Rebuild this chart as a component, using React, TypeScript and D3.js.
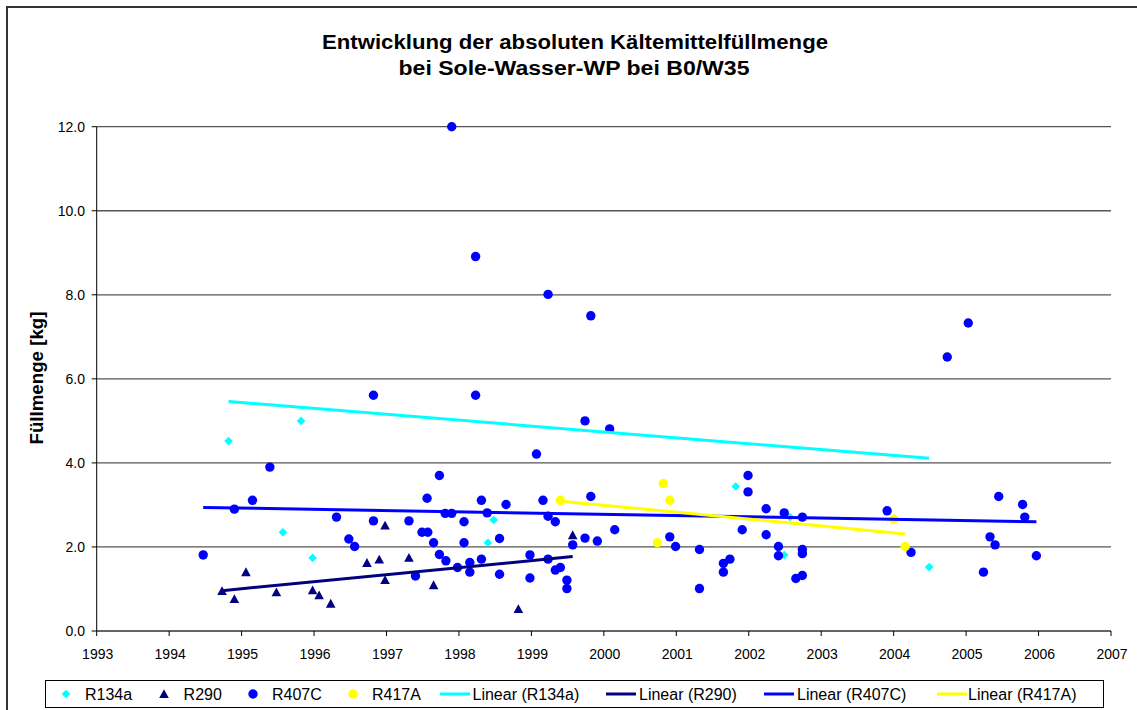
import React from "react";
import * as d3 from "d3";

// ---- data (year, Füllmenge kg) ----
const xTicks = [1993, 1994, 1995, 1996, 1997, 1998, 1999, 2000, 2001, 2002, 2003, 2004, 2005, 2006, 2007];
const yTicks = [0, 2, 4, 6, 8, 10, 12];

const r134a: [number, number][] = [
  [1994.82, 4.52], [1995.82, 5.0], [1995.57, 2.35], [1995.98, 1.74], [1998.48, 2.64],
  [1998.4, 2.1], [2001.82, 3.44], [2002.57, 2.71], [2002.49, 1.81], [2004.49, 1.52],
];

const r290: [number, number][] = [
  [1994.73, 0.95], [1994.9, 0.76], [1995.06, 1.4], [1995.48, 0.92], [1995.98, 0.97],
  [1996.07, 0.85], [1996.23, 0.65], [1996.73, 1.62], [1996.9, 1.7], [1996.98, 2.51],
  [1996.98, 1.21], [1997.31, 1.74], [1997.65, 1.09], [1999.57, 2.28], [1998.82, 0.52],
];

const r407c: [number, number][] = [
  [1994.47, 1.81], [1994.9, 2.9], [1995.15, 3.11], [1995.39, 3.9], [1996.82, 5.61],
  [1998.23, 5.61], [1996.31, 2.71], [1996.48, 2.19], [1996.56, 2.01], [1996.82, 2.62],
  [1997.31, 2.62], [1997.56, 3.16], [1997.73, 3.7], [1997.49, 2.35], [1997.57, 2.35],
  [1997.65, 2.1], [1997.81, 2.8], [1997.9, 2.8], [1998.07, 2.6], [1998.07, 2.1],
  [1998.31, 3.11], [1998.39, 2.81], [1998.56, 2.2], [1997.4, 1.31], [1997.73, 1.82],
  [1997.82, 1.67], [1997.98, 1.51], [1998.15, 1.63], [1998.15, 1.4], [1998.31, 1.71],
  [1998.56, 1.35], [1997.9, 12.0], [1998.23, 8.91], [1999.23, 8.01], [1999.82, 7.5],
  [1999.74, 5.0], [2000.08, 4.81], [1999.07, 4.21], [1998.65, 3.01], [1999.16, 3.11],
  [1999.23, 2.73], [1999.33, 2.6], [1999.82, 3.2], [2000.15, 2.41], [1999.74, 2.21],
  [1999.91, 2.14], [1998.98, 1.81], [1999.23, 1.71], [1998.98, 1.26], [1999.33, 1.45],
  [1999.4, 1.51], [1999.49, 1.21], [1999.49, 1.01], [1999.57, 2.05], [2000.91, 2.24],
  [2000.99, 2.01], [2001.32, 1.94], [2001.32, 1.01], [2001.65, 1.61], [2001.74, 1.71],
  [2001.65, 1.4], [2001.91, 2.41], [2001.99, 3.7], [2001.99, 3.31], [2002.24, 2.91],
  [2002.24, 2.29], [2002.49, 2.81], [2002.41, 2.01], [2002.41, 1.79], [2002.74, 1.94],
  [2002.74, 1.84], [2002.74, 2.71], [2002.65, 1.25], [2002.74, 1.32], [2003.91, 2.86],
  [2004.24, 1.87], [2005.45, 3.2], [2005.78, 3.01], [2005.81, 2.71], [2005.33, 2.24],
  [2005.4, 2.05], [2005.24, 1.4], [2005.97, 1.79], [2004.74, 6.52], [2005.03, 7.33],
];

const r417a: [number, number][] = [
  [1999.4, 3.11], [2000.82, 3.51], [2000.91, 3.11], [2000.74, 2.1], [2004.0, 2.66], [2004.16, 2.01],
];

// linear trend lines (start / end)
const trendR134a: [number, number][] = [[1994.82, 5.46], [2004.49, 4.11]];
const trendR290: [number, number][] = [[1994.73, 0.96], [1999.57, 1.77]];
const trendR407C: [number, number][] = [[1994.47, 2.94], [2005.97, 2.6]];
const trendR417A: [number, number][] = [[1999.4, 3.09], [2004.16, 2.31]];

const seriesNames = ["R134a", "R290", "R407C", "R417A"];
const trendNames = ["Linear (R134a)", "Linear (R290)", "Linear (R407C)", "Linear (R417A)"];
const colors = ["#00FFFF", "#000080", "#0000FF", "#FFFF00"];

const FONT = "'Liberation Sans', Arial, sans-serif";

const x = d3.scaleLinear().domain([1993, 2007]).range([96.7, 1111]);
const y = d3.scaleLinear().domain([0, 12]).range([631, 126.7]);

function Marker({ kind, cx, cy, color }: { kind: number; cx: number; cy: number; color: string }) {
  if (kind === 0) {
    const s = 4.3;
    return <path d={`M${cx},${cy - s}L${cx + s},${cy}L${cx},${cy + s}L${cx - s},${cy}Z`} fill={color} />;
  }
  if (kind === 1) {
    const w = 4.8, h = 8.8;
    return <path d={`M${cx},${cy - h * 0.55}L${cx + w},${cy + h * 0.45}L${cx - w},${cy + h * 0.45}Z`} fill={color} />;
  }
  return <circle cx={cx} cy={cy} r={4.7} fill={color} />;
}

export default function App() {
  const allSeries = [r134a, r290, r407c, r417a];
  const trends = [trendR134a, trendR290, trendR407C, trendR417A];
  const line = d3.line<[number, number]>().x((d) => x(d[0])).y((d) => y(d[1]));

  const legendMarkers = [66, 164, 253, 353];
  const legendMarkerText = [85, 183.6, 272, 372];
  const legendLines = [440, 606, 764, 937];
  const legendLineText = [472.5, 639, 797, 968];

  return (
    <svg
      width={1137}
      height={710}
      style={{ position: "fixed", left: 0, top: 0, background: "#fff" }}
      fontFamily={FONT}
    >
      <rect x={0} y={0} width={1137} height={710} fill="#fff" />
      {/* outer frame */}
      <rect x={7} y={7} width={1150} height={720} fill="none" stroke="#333" strokeWidth={2} />

      {/* title */}
      <text x={575} y={49} textAnchor="middle" fontSize={20} fontWeight="bold" textLength={506} lengthAdjust="spacingAndGlyphs">
        Entwicklung der absoluten Kältemittelfüllmenge
      </text>
      <text x={574} y={75} textAnchor="middle" fontSize={20} fontWeight="bold" textLength={351} lengthAdjust="spacingAndGlyphs">
        bei Sole-Wasser-WP bei B0/W35
      </text>

      {/* gridlines */}
      {yTicks.filter((t) => t > 0).map((t) => (
        <line key={t} x1={x(1993)} x2={x(2007)} y1={y(t)} y2={y(t)} stroke="#555" strokeWidth={1.3} />
      ))}

      {/* axes */}
      <line x1={x(1993)} x2={x(1993)} y1={y(12)} y2={y(0)} stroke="#000" strokeWidth={1} />
      <line x1={x(1993)} x2={x(2007)} y1={y(0)} y2={y(0)} stroke="#333" strokeWidth={1.3} />
      {yTicks.map((t) => (
        <g key={t}>
          <line x1={x(1993) - 5} x2={x(1993)} y1={y(t)} y2={y(t)} stroke="#000" />
          <text x={85} y={y(t) + 5} textAnchor="end" fontSize={14}>
            {t.toFixed(1)}
          </text>
        </g>
      ))}
      {xTicks.map((t) => (
        <g key={t}>
          <line x1={x(t)} x2={x(t)} y1={y(0)} y2={y(0) + 5} stroke="#000" />
          <text x={x(t) + 1} y={659} textAnchor="middle" fontSize={14}>
            {t}
          </text>
        </g>
      ))}

      {/* y axis title */}
      <text
        transform={`translate(42.5,378) rotate(-90)`}
        textAnchor="middle"
        fontSize={18}
        fontWeight="bold"
        textLength={133}
        lengthAdjust="spacingAndGlyphs"
      >
        Füllmenge [kg]
      </text>

      {/* markers */}
      {allSeries.map((s, i) => (
        <g key={i}>
          {s.map((d, j) => (
            <Marker key={j} kind={i} cx={x(d[0])} cy={y(d[1])} color={colors[i]} />
          ))}
        </g>
      ))}

      {/* trendlines */}
      {trends.map((t, i) => (
        <path key={i} d={line(t) || ""} fill="none" stroke={colors[i]} strokeWidth={3} />
      ))}

      {/* legend */}
      <rect x={45.5} y={680.5} width={1058} height={27} fill="#fff" stroke="#000" strokeWidth={1} />
      {seriesNames.map((n, i) => (
        <g key={n}>
          <Marker kind={i} cx={legendMarkers[i]} cy={694} color={colors[i]} />
          <text x={legendMarkerText[i]} y={700} fontSize={16}>
            {n}
          </text>
        </g>
      ))}
      {trendNames.map((n, i) => (
        <g key={n}>
          <line x1={legendLines[i]} x2={legendLines[i] + 30} y1={694} y2={694} stroke={colors[i]} strokeWidth={3} />
          <text x={legendLineText[i]} y={700} fontSize={16}>
            {n}
          </text>
        </g>
      ))}
    </svg>
  );
}
